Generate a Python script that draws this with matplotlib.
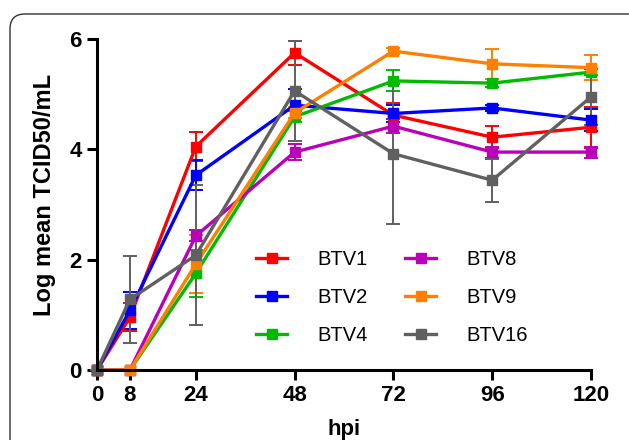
import numpy as np
import matplotlib
matplotlib.use("Agg")
import matplotlib.pyplot as plt
from matplotlib.patches import FancyBboxPatch

plt.rcParams['font.family'] = ['Liberation Sans', 'DejaVu Sans']

# hours post infection
hpi = [0, 8, 24, 48, 72, 96, 120]

# mean log titres and error
btv1 = [0, 0.96, 4.05, 5.75, 4.62, 4.22, 4.40]
btv1_err = [0, 0.25, 0.27, 0.22, 0.22, 0.20, 0.37]
btv2 = [0, 1.08, 3.53, 4.80, 4.65, 4.75, 4.53]
btv2_err = [0, 0.34, 0.27, 0.30, 0.15, 0.06, 0.20]
btv4 = [0, 0, 1.75, 4.59, 5.24, 5.20, 5.40]
btv4_err = [0, 0, 0.43, 0.10, 0.19, 0.07, 0.05]
btv8 = [0, 0, 2.43, 3.95, 4.42, 3.95, 3.95]
btv8_err = [0, 0, 0.10, 0.15, 0.13, 0.10, 0.10]
btv9 = [0, 0, 1.92, 4.66, 5.78, 5.55, 5.48]
btv9_err = [0, 0, 0.53, 0.10, 0.06, 0.27, 0.23]
btv16 = [0, 1.28, 2.08, 5.06, 3.92, 3.44, 4.95]
btv16_err = [0, 0.79, 1.27, 0.90, 1.27, 0.39, 0.50]

labels = ['BTV1', 'BTV2', 'BTV4', 'BTV8', 'BTV9', 'BTV16']
series = [btv1, btv2, btv4, btv8, btv9, btv16]
errors = [btv1_err, btv2_err, btv4_err, btv8_err, btv9_err, btv16_err]
colors = ['#ff0000', '#0000ff', '#00bb00', '#bb00bb', '#ff8000', '#606060']

fig = plt.figure(figsize=(6.29, 4.4), dpi=100)
ax = fig.add_axes([97/629, 1-370/440, (591-97)/629, (370-39)/440])

# rounded frame around the whole panel
frame = FancyBboxPatch((0.10, -0.5), 6.4, 4.76, boxstyle="round,pad=0,rounding_size=0.15",
                       transform=fig.dpi_scale_trans, fill=False, edgecolor='#333333', linewidth=1.0)
fig.patches.append(frame)

handles = []
for y, e, c, lab in zip(series, errors, colors, labels):
    cont = ax.errorbar(hpi, y, yerr=e, fmt='-s', color=c, lw=2.4, ms=6.5,
                       elinewidth=1.4, capsize=5, capthick=1.4, clip_on=False)
    for art in cont.lines[1] + cont.lines[2]:
        art.set_clip_on(False)
    handles.append(cont[0])

ax.set_xlim(0, 120)
ax.set_ylim(0, 6)
ax.set_xticks(hpi)
ax.set_yticks([0, 2, 4, 6])

for s in ['top', 'right']:
    ax.spines[s].set_visible(False)
for s in ['left', 'bottom']:
    ax.spines[s].set_linewidth(2.2)
ax.tick_params(width=2.2, length=7, labelsize=16, pad=4)
for t in ax.get_xticklabels() + ax.get_yticklabels():
    t.set_fontweight('bold')

ax.set_xlabel('hpi', fontsize=16, fontweight='bold', labelpad=9)
ax.set_ylabel('Log mean TCID50/mL', fontsize=17, fontweight='bold')
ax.yaxis.set_label_coords(-0.083, 0.53)

ax.legend(handles=handles, labels=labels, ncol=2, frameon=False, fontsize=14.5,
          handlelength=1.55, handletextpad=1.5, columnspacing=1.85, labelspacing=0.95,
          loc='upper left', bbox_to_anchor=(0.285, 0.417))

fig.savefig('out.png', dpi=100)
